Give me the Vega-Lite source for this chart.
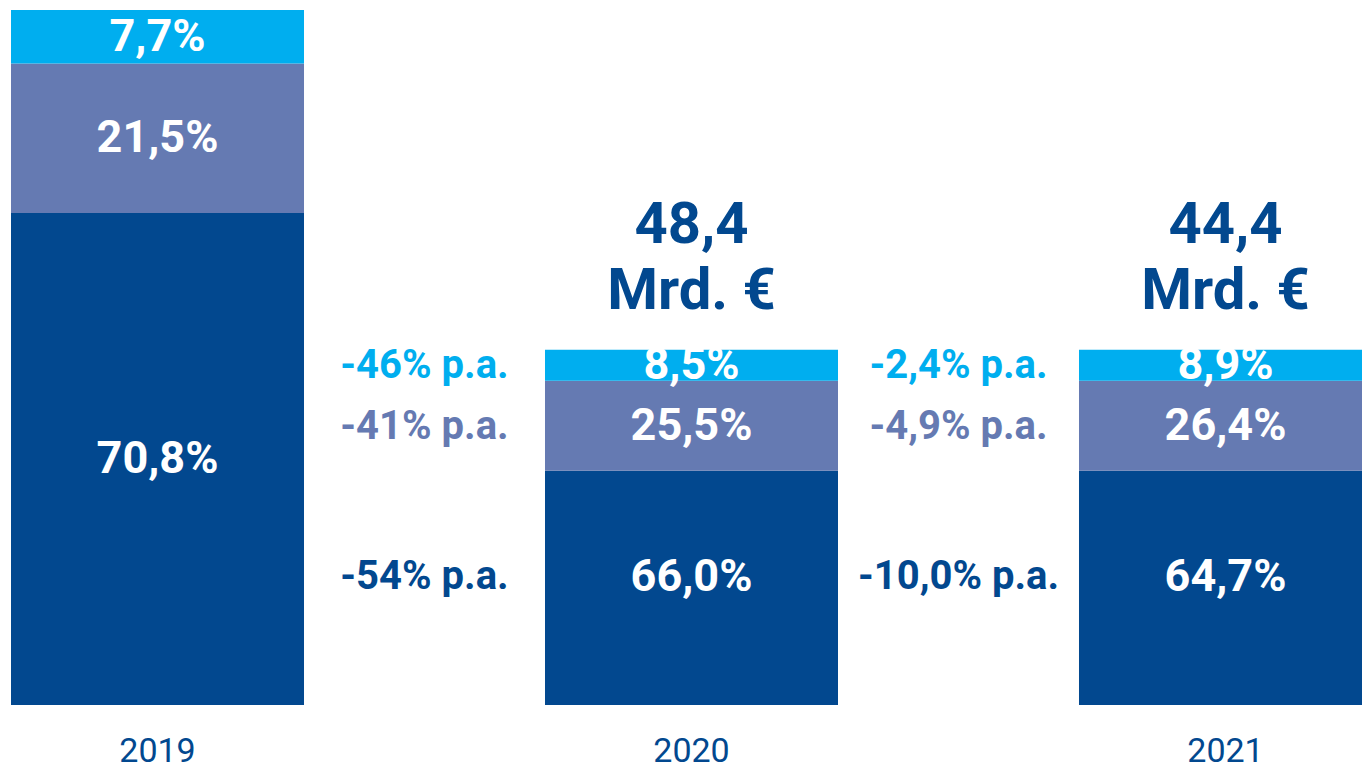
{
  "$schema": "https://vega.github.io/schema/vega-lite/v6.json",
  "width": 1362,
  "height": 705,
  "autosize": {"type": "none"},
  "padding": {"left": 0, "top": 0, "right": 0, "bottom": 62},
  "background": "white",
  "config": {
    "view": {"stroke": null},
    "font": "Roboto",
    "locale": {"number": {"decimal": ",", "thousands": ".", "grouping": [3], "currency": ["", " €"]}}
  },
  "data": {
    "values": [
      {"year": "2019", "cat": "A", "height": 70.8, "share": 0.708, "change": null, "total": null},
      {"year": "2019", "cat": "B", "height": 21.5, "share": 0.215, "change": null, "total": null},
      {"year": "2019", "cat": "C", "height": 7.7, "share": 0.077, "change": null, "total": null},
      {"year": "2020", "cat": "A", "height": 33.7, "share": 0.66, "change": "-54% p.a.", "total": 48.4},
      {"year": "2020", "cat": "B", "height": 12.95, "share": 0.255, "change": "-41% p.a.", "total": 48.4},
      {"year": "2020", "cat": "C", "height": 4.45, "share": 0.085, "change": "-46% p.a.", "total": 48.4},
      {"year": "2021", "cat": "A", "height": 33.7, "share": 0.647, "change": "-10,0% p.a.", "total": 44.4},
      {"year": "2021", "cat": "B", "height": 12.95, "share": 0.264, "change": "-4,9% p.a.", "total": 44.4},
      {"year": "2021", "cat": "C", "height": 4.45, "share": 0.089, "change": "-2,4% p.a.", "total": 44.4}
    ]
  },
  "transform": [
    {"stack": "height", "groupby": ["year"], "sort": [{"field": "cat", "order": "ascending"}], "as": ["y0", "y1"]},
    {"calculate": "(datum.y0 + datum.y1) / 2", "as": "ymid"}
  ],
  "encoding": {
    "x": {
      "field": "year",
      "type": "ordinal",
      "scale": {"type": "band", "range": [11, 1372], "paddingInner": 0.4513, "paddingOuter": 0},
      "axis": {
        "title": null,
        "domain": false,
        "ticks": false,
        "labelAngle": 0,
        "labelFont": "Roboto",
        "labelFontSize": 34,
        "labelFontWeight": "normal",
        "labelColor": "#02488F",
        "labelBaseline": "alphabetic",
        "labelPadding": 56
      }
    }
  },
  "layer": [
    {
      "mark": {"type": "bar"},
      "encoding": {
        "y": {"field": "y0", "type": "quantitative", "scale": {"domain": [0, 101.44], "nice": false, "zero": true}, "axis": null},
        "y2": {"field": "y1"},
        "color": {
          "field": "cat",
          "type": "nominal",
          "scale": {"domain": ["A", "B", "C"], "range": ["#02488F", "#657AB2", "#00AEEF"]},
          "legend": null
        }
      }
    },
    {
      "transform": [{"filter": "!(datum.cat == 'A' && datum.year != '2019')"}],
      "mark": {"type": "text", "color": "white", "font": "Roboto", "fontWeight": "bold", "fontSize": 45, "baseline": "middle", "align": "center"},
      "encoding": {
        "y": {"field": "ymid", "type": "quantitative"},
        "text": {"field": "share", "type": "quantitative", "format": ".1%"}
      }
    },
    {
      "transform": [{"filter": "datum.cat == 'A' && datum.year != '2019'"}],
      "mark": {"type": "text", "dy": -11, "color": "white", "font": "Roboto", "fontWeight": "bold", "fontSize": 45, "baseline": "middle", "align": "center"},
      "encoding": {
        "y": {"field": "ymid", "type": "quantitative"},
        "text": {"field": "share", "type": "quantitative", "format": ".1%"}
      }
    },
    {
      "transform": [{"filter": "datum.change != null && datum.cat != 'A'"}],
      "mark": {"type": "text", "dx": -267, "dy": 1, "font": "Roboto", "fontWeight": "bold", "fontSize": 40, "baseline": "middle", "align": "center"},
      "encoding": {
        "y": {"field": "ymid", "type": "quantitative"},
        "text": {"field": "change", "type": "nominal"},
        "color": {"field": "cat", "type": "nominal"}
      }
    },
    {
      "transform": [{"filter": "datum.change != null && datum.cat == 'A'"}],
      "mark": {"type": "text", "dx": -267, "dy": -11, "font": "Roboto", "fontWeight": "bold", "fontSize": 40, "baseline": "middle", "align": "center"},
      "encoding": {
        "y": {"field": "ymid", "type": "quantitative"},
        "text": {"field": "change", "type": "nominal"},
        "color": {"field": "cat", "type": "nominal"}
      }
    },
    {
      "transform": [
        {"filter": "datum.total != null"},
        {"aggregate": [{"op": "max", "field": "y1", "as": "top"}, {"op": "max", "field": "total", "as": "total"}], "groupby": ["year"]}
      ],
      "mark": {"type": "text", "dy": -107, "font": "Roboto", "fontWeight": "bold", "fontSize": 58, "baseline": "alphabetic", "align": "center", "color": "#02488F"},
      "encoding": {
        "y": {"field": "top", "type": "quantitative"},
        "text": {"field": "total", "type": "quantitative", "format": ".1f"}
      }
    },
    {
      "transform": [
        {"filter": "datum.total != null"},
        {"aggregate": [{"op": "max", "field": "y1", "as": "top"}], "groupby": ["year"]}
      ],
      "mark": {"type": "text", "dy": -41, "font": "Roboto", "fontWeight": "bold", "fontSize": 58, "baseline": "alphabetic", "align": "center", "color": "#02488F", "text": "Mrd. €"},
      "encoding": {
        "y": {"field": "top", "type": "quantitative"}
      }
    }
  ]
}
